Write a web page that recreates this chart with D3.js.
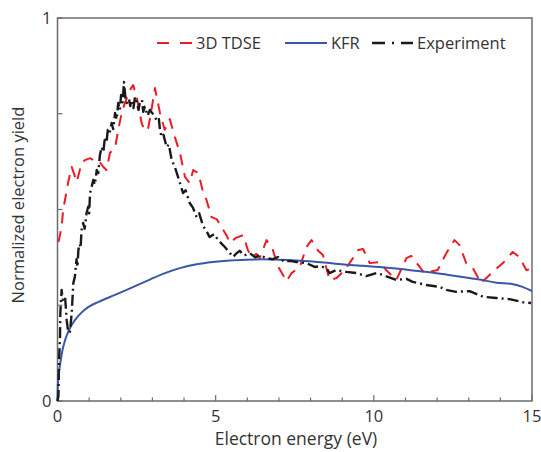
<!DOCTYPE html>
<html>
<head>
<meta charset="utf-8">
<script src="https://cdn.jsdelivr.net/npm/d3@7"></script>
<style>
  body { margin: 0; background: #fff; }
  text { font-family: "Open Sans", sans-serif; fill: #333; }
</style>
</head>
<body>
<svg></svg>
<script>
const w = 541;
const h = 452;
const margin = { top: 18, right: 9, bottom: 51, left: 57.5 };

// series values: [energy eV, normalized yield]
const tdse = [
  [0.03, 0.415], [0.13, 0.454], [0.18, 0.499], [0.34, 0.572], [0.45, 0.611],
  [0.61, 0.572], [0.76, 0.621], [0.87, 0.629], [1.03, 0.634], [1.13, 0.629],
  [1.29, 0.629], [1.45, 0.611], [1.55, 0.603], [1.66, 0.648], [1.82, 0.661],
  [1.92, 0.708], [2.03, 0.752], [2.13, 0.778], [2.29, 0.812], [2.39, 0.825],
  [2.50, 0.794], [2.66, 0.726], [2.76, 0.705], [2.87, 0.713], [2.97, 0.760],
  [3.08, 0.817], [3.24, 0.752], [3.39, 0.708], [3.55, 0.736], [3.71, 0.689],
  [3.87, 0.648], [4.03, 0.585], [4.18, 0.569], [4.29, 0.603], [4.45, 0.595],
  [4.61, 0.543], [4.71, 0.525], [4.87, 0.480], [5.03, 0.475], [5.34, 0.433],
  [5.45, 0.413], [5.64, 0.426], [5.87, 0.433], [6.02, 0.394], [6.13, 0.376],
  [6.29, 0.384], [6.39, 0.373], [6.61, 0.420], [6.81, 0.394], [6.97, 0.352],
  [7.24, 0.313], [7.40, 0.334], [7.66, 0.350], [7.87, 0.402], [8.03, 0.420],
  [8.24, 0.392], [8.39, 0.381], [8.60, 0.316], [8.82, 0.321], [9.08, 0.342],
  [9.34, 0.373], [9.50, 0.394], [9.66, 0.397], [9.87, 0.360], [10.18, 0.363],
  [10.39, 0.342], [10.71, 0.316], [11.03, 0.373], [11.18, 0.379], [11.45, 0.350],
  [11.60, 0.334], [12.02, 0.342], [12.29, 0.386], [12.55, 0.420], [12.71, 0.407],
  [12.92, 0.360], [13.13, 0.347], [13.39, 0.308], [13.76, 0.337], [14.08, 0.360],
  [14.39, 0.389], [14.60, 0.376], [14.82, 0.342], [14.98, 0.345]
];

const kfr = [
  [0, 0], [0.01, 0.04], [0.04, 0.07], [0.08, 0.095], [0.15, 0.13], [0.24, 0.159],
  [0.35, 0.183], [0.55, 0.211], [0.75, 0.23], [0.97, 0.245], [1.3, 0.259],
  [1.82, 0.277], [2.4, 0.298], [2.92, 0.317], [3.4, 0.334], [3.87, 0.347],
  [4.4, 0.357], [4.91, 0.363], [5.45, 0.367], [5.97, 0.369], [6.5, 0.37],
  [7.02, 0.369], [7.55, 0.367], [8.07, 0.364], [8.6, 0.36], [9.13, 0.356],
  [9.65, 0.353], [10.18, 0.35], [10.7, 0.346], [11.23, 0.341], [11.76, 0.336],
  [12.29, 0.33], [12.8, 0.324], [13.34, 0.317], [13.87, 0.309], [14.4, 0.305],
  [14.7, 0.298], [15, 0.287]
];

const experiment = [
  [0, 0], [0.03, 0.013], [0.05, 0.107], [0.08, 0.170], [0.09, 0.230], [0.13, 0.290],
  [0.17, 0.264], [0.24, 0.272], [0.29, 0.211], [0.33, 0.185], [0.39, 0.178],
  [0.45, 0.230], [0.50, 0.308], [0.55, 0.324], [0.6, 0.37], [0.63, 0.35],
  [0.66, 0.394], [0.70, 0.41], [0.73, 0.40], [0.76, 0.446], [0.81, 0.465],
  [0.86, 0.45], [0.92, 0.491], [0.97, 0.507], [1.0, 0.49], [1.03, 0.543],
  [1.08, 0.559], [1.13, 0.577], [1.18, 0.565], [1.24, 0.603], [1.29, 0.595],
  [1.34, 0.642], [1.40, 0.663], [1.45, 0.65], [1.50, 0.689], [1.55, 0.675],
  [1.59, 0.708], [1.65, 0.70], [1.71, 0.726], [1.76, 0.71], [1.82, 0.752],
  [1.87, 0.735], [1.92, 0.778], [1.97, 0.76], [2.01, 0.799], [2.06, 0.78],
  [2.10, 0.833], [2.15, 0.79], [2.19, 0.778], [2.26, 0.789], [2.30, 0.77],
  [2.34, 0.786], [2.40, 0.765], [2.45, 0.794], [2.51, 0.781], [2.56, 0.76],
  [2.60, 0.778], [2.67, 0.786], [2.71, 0.755], [2.76, 0.768], [2.85, 0.745],
  [2.92, 0.760], [3.02, 0.749], [3.13, 0.734], [3.2, 0.74], [3.24, 0.708],
  [3.29, 0.689], [3.35, 0.695], [3.45, 0.663], [3.52, 0.67], [3.61, 0.629],
  [3.71, 0.611], [3.81, 0.585], [3.97, 0.543], [4.05, 0.55], [4.18, 0.517],
  [4.28, 0.505], [4.40, 0.480], [4.48, 0.49], [4.60, 0.457], [4.70, 0.445],
  [4.81, 0.428], [4.95, 0.436], [5.08, 0.420], [5.29, 0.402], [5.55, 0.376],
  [5.65, 0.385], [5.76, 0.392], [5.9, 0.38], [6.08, 0.386], [6.25, 0.375],
  [6.39, 0.381], [6.61, 0.373], [6.8, 0.37], [6.97, 0.376], [7.18, 0.363],
  [7.35, 0.366], [7.55, 0.363], [7.87, 0.360], [8.13, 0.350], [8.3, 0.352],
  [8.50, 0.347], [8.60, 0.334], [8.82, 0.342], [9.13, 0.337], [9.45, 0.334],
  [9.76, 0.326], [10.08, 0.334], [10.29, 0.329], [10.71, 0.316], [11.03, 0.319],
  [11.23, 0.311], [11.66, 0.303], [12.08, 0.298], [12.29, 0.290], [12.60, 0.285],
  [13.03, 0.287], [13.45, 0.272], [13.87, 0.269], [14.29, 0.266], [14.71, 0.258],
  [14.97, 0.256]
];

const xTicks = [0, 5, 10, 15];
const xMinorTicks = d3.range(0, 16, 1);
const yTicks = [0, 1];
const yMinorTicks = [0, 0.25, 0.5, 0.75, 1];

const series = [
  { name: "3D TDSE", data: tdse, color: "#ec1c24", dash: "11,8", width: 2, curve: d3.curveLinear },
  { name: "KFR", data: kfr, color: "#3a56a8", dash: null, width: 2, curve: d3.curveMonotoneX },
  { name: "Experiment", data: experiment, color: "#1a1a1a", dash: "11,4,2,4", width: 2.4, curve: d3.curveLinear }
];

const svg = d3.select("svg").attr("width", w).attr("height", h);

const x = d3.scaleLinear().domain([0, 15]).range([margin.left, w - margin.right]);
const y = d3.scaleLinear().domain([0, 1]).range([h - margin.bottom, margin.top]);

const axisColor = "#6b6b6b";

/** Box frame */
svg.append("rect")
  .attr("x", x(0)).attr("y", y(1))
  .attr("width", x(15) - x(0)).attr("height", y(0) - y(1))
  .attr("fill", "none").attr("stroke", axisColor).attr("stroke-width", 1.5);

/** Inward ticks on the bottom axis */
svg.append("g")
  .selectAll("line")
  .data(xMinorTicks)
  .enter()
  .append("line")
  .attr("x1", (d) => x(d)).attr("x2", (d) => x(d))
  .attr("y1", y(0))
  .attr("y2", (d) => y(0) - (d % 5 === 0 ? 6 : 3.5))
  .attr("stroke", axisColor).attr("stroke-width", 1.2);

/** Inward ticks on the left axis */
svg.append("g")
  .selectAll("line")
  .data(yMinorTicks)
  .enter()
  .append("line")
  .attr("x1", x(0)).attr("x2", x(0) + 5)
  .attr("y1", (d) => y(d)).attr("y2", (d) => y(d))
  .attr("stroke", axisColor).attr("stroke-width", 1.2);

/** Tick labels */
svg.append("g")
  .selectAll("text")
  .data(xTicks)
  .enter()
  .append("text")
  .text((d) => d)
  .attr("x", (d) => x(d))
  .attr("y", y(0) + 21)
  .attr("text-anchor", "middle")
  .attr("font-size", 16.5);

svg.append("g")
  .selectAll("text")
  .data(yTicks)
  .enter()
  .append("text")
  .text((d) => d)
  .attr("x", x(0) - 6)
  .attr("y", (d) => y(d) + 6)
  .attr("text-anchor", "end")
  .attr("font-size", 16.5);

/** Axis titles */
svg.append("text")
  .text("Electron energy (eV)")
  .attr("x", 296)
  .attr("y", 445)
  .attr("text-anchor", "middle")
  .attr("font-size", 17.5);

svg.append("text")
  .text("Normalized electron yield")
  .attr("transform", "translate(24,205) rotate(-90)")
  .attr("text-anchor", "middle")
  .attr("font-size", 16.5);

/** Curves */
const line = (d) => d3.line().curve(d.curve).x((p) => x(p[0])).y((p) => y(p[1]))(d.data);

svg.append("g")
  .selectAll("path")
  .data(series)
  .enter()
  .append("path")
  .attr("d", line)
  .attr("fill", "none")
  .attr("stroke", (d) => d.color)
  .attr("stroke-width", (d) => d.width)
  .attr("stroke-dasharray", (d) => d.dash)
  .attr("stroke-linejoin", "round");

/** Legend */
const legendX = [157, 285, 372];
const legendLen = [35, 42, 41];
const legendDash = ["12,11", null, "13,7,2,7"];
const legend = svg.append("g")
  .selectAll("g")
  .data(series)
  .enter()
  .append("g")
  .attr("transform", (d, i) => `translate(${legendX[i]},43)`);

legend.append("line")
  .attr("x1", 0).attr("x2", (d, i) => legendLen[i])
  .attr("stroke", (d) => d.color)
  .attr("stroke-width", (d) => d.width)
  .attr("stroke-dasharray", (d, i) => legendDash[i]);

legend.append("text")
  .text((d) => d.name)
  .attr("x", (d, i) => legendLen[i] + 4)
  .attr("y", 6)
  .attr("font-size", 16.5);
</script>
</body>
</html>
